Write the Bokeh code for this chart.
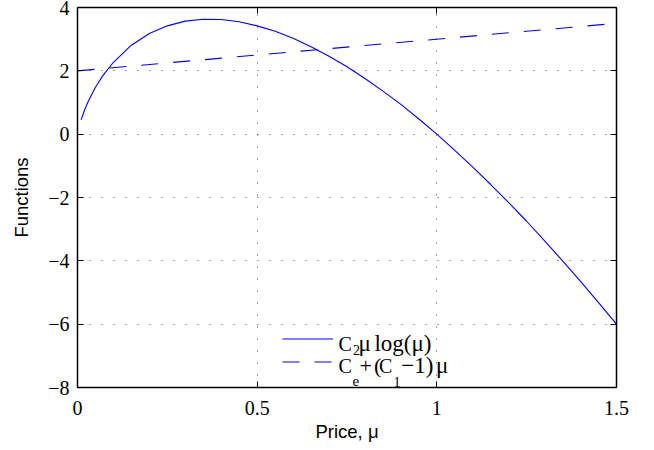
from bokeh.plotting import figure
from bokeh.models import (Range1d, LinearAxis, FixedTicker, CustomJSTickFormatter,
                          Legend, LegendItem, Label)
from bokeh.embed import file_html
from bokeh.resources import INLINE

# ---- data ----
price = [0.01, 0.02, 0.03, 0.05, 0.07, 0.10, 0.15, 0.20, 0.25, 0.30, 0.35, 0.40,
         0.45, 0.50, 0.55, 0.60, 0.65, 0.70, 0.75, 0.80, 0.85, 0.90, 0.95, 1.00,
         1.05, 1.10, 1.15, 1.20, 1.25, 1.30, 1.35, 1.40, 1.45, 1.50]
c2_mu_log = [0.45, 0.77, 1.04, 1.48, 1.84, 2.27, 2.81, 3.18, 3.42, 3.57, 3.63, 3.62,
             3.55, 3.42, 3.25, 3.03, 2.76, 2.46, 2.13, 1.76, 1.36, 0.94, 0.48, 0.00,
             -0.51, -1.04, -1.59, -2.16, -2.75, -3.37, -4.00, -4.65, -5.32, -6.00]
line_price = [0.0, 1.5]
ce_line = [2.0, 3.5]

x_ticks = [0, 0.5, 1, 1.5]
y_ticks = [-8, -6, -4, -2, 0, 2, 4]
x_grid = [0.5, 1]
y_grid = [-6, -4, -2, 0, 2]

# ---- layout constants (page pixels of the plot frame) ----
FL, FR, FT, FB = 77, 616, 7, 387
XMIN, XMAX, YMIN, YMAX = 0.0, 1.5, -8.0, 4.0


def dx(px):
    return XMIN + (px - FL) / (FR - FL) * (XMAX - XMIN)


def dy(py):
    return YMIN + (FB - py) / (FB - FT) * (YMAX - YMIN)


BLUE = "#0000ff"
SERIF = "Liberation Serif"
SANS = "Liberation Sans"

W, H = 646, 446
p = figure(width=W, height=H, x_range=Range1d(XMIN, XMAX), y_range=Range1d(YMIN, YMAX),
           output_backend="svg", toolbar_location=None,
           min_border_left=FL, min_border_right=W - FR, min_border_top=FT,
           min_border_bottom=H - FB,
           x_axis_label="Price, μ", y_axis_label="Functions")
p.background_fill_color = "white"
p.border_fill_color = "white"
p.outline_line_color = None

fmt = CustomJSTickFormatter(code="return String(tick).replace('-', '\u2212');")
blank = CustomJSTickFormatter(code="return '';")

for ax, ticks in ((p.xaxis[0], x_ticks), (p.yaxis[0], y_ticks)):
    ax.ticker = FixedTicker(ticks=ticks)
    ax.formatter = fmt
    ax.major_tick_in = 6
    ax.major_tick_out = 0
    ax.minor_tick_in = 0
    ax.minor_tick_out = 0
    ax.axis_line_width = 1.5
    ax.axis_line_color = "black"
    ax.major_tick_line_color = "black"
    ax.major_label_text_font = SERIF
    ax.major_label_text_font_size = "20px"
    ax.major_label_text_color = "black"
    ax.axis_label_text_font = SANS
    ax.axis_label_text_font_size = "18.5px"
    ax.axis_label_text_font_style = "normal"
    ax.axis_label_text_color = "black"

p.xaxis.major_label_standoff = 13
p.xaxis.axis_label_standoff = 3
p.yaxis.major_label_standoff = 8
p.yaxis.axis_label_standoff = 13

for side, ticks in (("above", x_ticks), ("right", y_ticks)):
    ax = LinearAxis(ticker=FixedTicker(ticks=ticks), formatter=blank,
                    major_label_standoff=0, major_tick_in=6, major_tick_out=0,
                    minor_tick_in=0, minor_tick_out=0, axis_line_width=1.5,
                    axis_line_color="black")
    p.add_layout(ax, side)

p.xgrid.ticker = FixedTicker(ticks=x_grid)
p.ygrid.ticker = FixedTicker(ticks=y_grid)
for g in (p.xgrid[0], p.ygrid[0]):
    g.grid_line_color = "#404040"
    g.grid_line_width = 1
    g.grid_line_dash = "1 11"

r1 = p.line(price, c2_mu_log, line_color=BLUE, line_width=1.1)
r2 = p.line(line_price, ce_line, line_color=BLUE, line_width=1.1, line_dash="17 15")

legend = Legend(items=[LegendItem(label="", renderers=[r1]),
                       LegendItem(label="", renderers=[r2])],
                location=(205, 14), glyph_width=51, glyph_height=23, label_height=23,
                label_width=0, label_standoff=0, padding=0, margin=0, spacing=0,
                border_line_alpha=0, background_fill_alpha=0,
                label_text_font_size="10px")
p.add_layout(legend)

# legend text with TeX-like subscripts: (text, x, baseline y, font px, align)
pieces = [
    ("C", 338, 343, 20, "left"), ("2", 352.5, 349.5, 14, "left"),
    ("μ", 358, 343, 23, "left"), ("log(μ)", 431, 343, 23, "right"),
    ("C", 338, 365, 20, "left"), ("e", 352, 380.5, 15, "left"),
    ("+", 359, 365, 22, "left"), ("(", 373.5, 365, 22, "left"),
    ("C", 378.5, 365, 20, "left"), ("1", 393, 381, 14, "left"),
    ("−1)", 433, 365, 23, "right"), ("μ", 435.5, 365, 23, "left"),
]
for txt, px, py, fs, al in pieces:
    p.add_layout(Label(x=dx(px), y=dy(py), text=txt, text_font=SERIF,
                       text_font_size=f"{fs}px", text_color="black",
                       text_baseline="alphabetic", text_align=al))

open("out.html", "w").write(file_html(p, INLINE))
